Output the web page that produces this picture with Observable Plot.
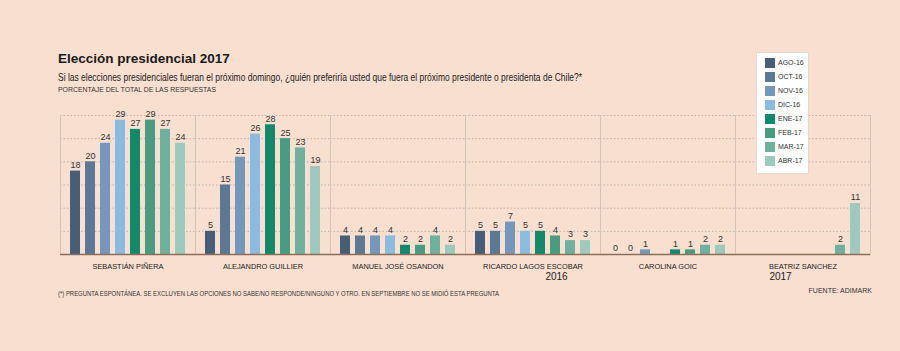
<!DOCTYPE html>
<html><head><meta charset="utf-8">
<script src="https://cdn.jsdelivr.net/npm/d3@7"></script>
<script src="https://cdn.jsdelivr.net/npm/@observablehq/plot@0.6"></script>
<style>
body{margin:0;background:#f9dfcf;}
#wrap{position:relative;width:900px;height:351px;background:#f9dfcf;font-family:"Liberation Sans",sans-serif;color:#222;overflow:hidden}
.abs{position:absolute;white-space:nowrap;line-height:1;transform-origin:0 0}
#chart{position:absolute;left:0;top:100px}
#legend{position:absolute;left:756px;top:52px;width:53px;height:122px;background:#fff;border:1px solid #e2d9d2;box-sizing:border-box}
.li{position:absolute;left:8px;height:10px;font-size:7px;line-height:10px;color:#333;white-space:nowrap}
.sw{display:inline-block;width:10px;height:10px;vertical-align:top;margin-right:3px}
</style></head><body>
<div id="wrap">
  <div class="abs" style="left:58px;top:51.5px;font-weight:bold;font-size:13.5px;color:#1a1a1a">Elección presidencial 2017</div>
  <div class="abs" id="sub" data-w="524" style="left:58px;top:72px;font-size:10.5px;color:#222"></div>
  <div class="abs" id="unit" data-w="158" style="left:58px;top:86px;font-size:7.5px;color:#333"></div>
  <div id="chart"></div>
  <div id="legend"></div>
  <div class="abs" id="note" data-w="441" style="left:58px;top:289.5px;font-size:7px;color:#333"></div>
  <div class="abs" id="src" style="right:28px;top:286.5px;font-size:7px;color:#333;transform-origin:100% 0"></div>
</div>
<script>
const subtitle = "Si las elecciones presidenciales fueran el próximo domingo, ¿quién preferiría usted que fuera el próximo presidente o presidenta de Chile?*";
const unitLabel = "PORCENTAJE DEL TOTAL DE LAS RESPUESTAS";
const note = "(*) PREGUNTA ESPONTÁNEA. SE EXCLUYEN LAS OPCIONES NO SABE/NO RESPONDE/NINGUNO Y OTRO. EN SEPTIEMBRE NO SE MIDIÓ ESTA PREGUNTA";
const source = "FUENTE: ADIMARK";

const candidates = ["SEBASTIÁN PIÑERA", "ALEJANDRO GUILLIER", "MANUEL JOSÉ OSANDON", "RICARDO LAGOS ESCOBAR", "CAROLINA GOIC", "BEATRIZ SANCHEZ"];
const months = ["AGO-16", "OCT-16", "NOV-16", "DIC-16", "ENE-17", "FEB-17", "MAR-17", "ABR-17"];
const colors = ["#465f77", "#5b7995", "#7398bb", "#8cbbe0", "#11896a", "#479c82", "#70b09e", "#9ec9bd"];

const pinera   = [18, 20, 24, 29, 27, 29, 27, 24];
const guillier = [5, 15, 21, 26, 28, 25, 23, 19];
const osandon  = [4, 4, 4, 4, 2, 2, 4, 2];
const lagos    = [5, 5, 7, 5, 5, 4, 3, 3];
const goic     = [0, 0, 1, null, 1, 1, 2, 2];
const sanchez  = [null, null, null, null, null, null, 2, 11];
const series = [pinera, guillier, osandon, lagos, goic, sanchez];

const gridTicks = [5, 10, 15, 20, 25, 30];
const year2016 = [{candidate: "RICARDO LAGOS ESCOBAR", text: "2016"}];
const year2017 = [{candidate: "BEATRIZ SANCHEZ", text: "2017"}];

document.getElementById("sub").textContent = subtitle;
document.getElementById("unit").textContent = unitLabel;
document.getElementById("note").textContent = note;
document.getElementById("src").textContent = source;

const rows = [];
candidates.forEach((c, i) => months.forEach((m, j) => {
  const v = series[i][j];
  if (v != null) rows.push({candidate: c, month: m, value: v});
}));

const chart = Plot.plot({
  width: 900, height: 200,
  marginTop: 15, marginBottom: 46, marginLeft: 58, marginRight: 28,
  style: {background: "transparent", fontFamily: "'Liberation Sans',sans-serif", fontSize: "7.4px", color: "#222", overflow: "visible"},
  fx: {domain: candidates, padding: 0, label: null, tickSize: 0, tickPadding: 9.5, axis: "bottom"},
  x: {domain: months, paddingInner: 0.32, paddingOuter: 0.62, axis: null},
  y: {domain: [0, 30], axis: null},
  color: {domain: months, range: colors},
  marks: [
    Plot.ruleY(gridTicks, {stroke: "#bdb3aa", strokeDasharray: "1.5,2"}),
    Plot.frame({anchor: "left", stroke: "#d2c6bb"}),
    Plot.frame({anchor: "right", stroke: "#d2c6bb"}),
    Plot.barY(rows, {fx: "candidate", x: "month", y: "value", fill: "month"}),
    Plot.text(rows, {fx: "candidate", x: "month", y: "value", text: d => String(d.value), dy: -6, fontSize: 9, fill: "#333"}),
    Plot.ruleY([0], {stroke: "#8b6f5c", strokeWidth: 1.5}),
    Plot.text(year2016, {fx: "candidate", text: "text", frameAnchor: "bottom", dy: 25, dx: 23.5, fontSize: 10, fill: "#222"}),
    Plot.text(year2017, {fx: "candidate", text: "text", frameAnchor: "bottom", dy: 25, dx: -22.5, fontSize: 10, fill: "#222"})
  ]
});
document.getElementById("chart").appendChild(chart);

// condense the narrow reference texts horizontally to their widths
document.querySelectorAll(".abs[data-w]").forEach(el => {
  const w = el.getBoundingClientRect().width;
  const target = +el.dataset.w;
  if (w > 0) el.style.transform = `scaleX(${target / w})`;
});

const legend = document.getElementById("legend");
months.forEach((m, i) => {
  const d = document.createElement("div");
  d.className = "li";
  d.style.top = (5 + i * 14) + "px";
  d.innerHTML = `<span class="sw" style="background:${colors[i]}"></span>${m}`;
  legend.appendChild(d);
});
</script>
</body></html>
